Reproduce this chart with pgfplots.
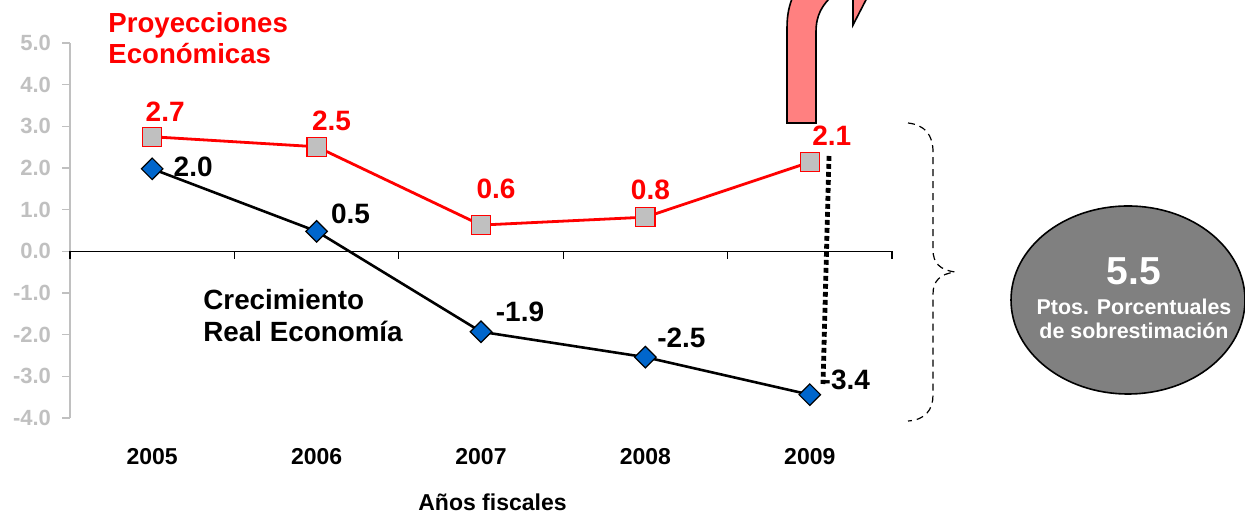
\documentclass[border=0pt]{standalone}
\usepackage{fontspec}
\setmainfont{Liberation Sans}
\usepackage{pgfplots}
\pgfplotsset{compat=1.18}
\usepackage{pgfplotstable}

\definecolor{axgray}{RGB}{192,192,192}
\definecolor{mkgray}{RGB}{192,192,192}
\definecolor{dblue}{RGB}{0,102,204}
\definecolor{pinkarr}{RGB}{255,128,128}
\definecolor{elgray}{RGB}{128,128,128}

% x = year index (2005 = 1), dx/dy = label offset in pt
\pgfplotstableread{
x y lab dx dy
1 2.75 2.7 6.5 12.5
2 2.51 2.5 7.5 13
3 0.63 0.6 7.5 18
4 0.82 0.8 2.5 13.5
5 2.14 2.1 11 13.25
}\proyecciones

\pgfplotstableread{
x y lab dx dy
1 1.98 2.0 20.5 1
2 0.48 0.5 17 8.5
3 -1.93 -1.9 19.5 9.75
4 -2.54 -2.5 18 9.5
5 -3.44 -3.4 18 7.25
}\crecimiento

\begin{document}
\begin{tikzpicture}
\useasboundingbox (0,0) rectangle (622.5pt,258.5pt);

\begin{axis}[
    at={(35pt,49.5pt)}, anchor=south west,
    scale only axis,
    width=411pt, height=187.5pt,
    xmin=0.5, xmax=5.5,
    ymin=-4, ymax=5,
    clip=false,
    axis lines*=left,
    x axis line style={draw=none},
    y axis line style={axgray, line width=0.75pt},
    tick align=outside,
    major tick length=4pt,
    xtick={1,2,3,4,5},
    xticklabels={2005,2006,2007,2008,2009},
    x tick style={draw=none},
    xticklabel style={font=\fontsize{11.5}{13}\selectfont\bfseries, anchor=base, yshift=-19.5pt},
    ytick={-4,-3,-2,-1,0,1,2,3,4,5},
    yticklabels={-4.0,-3.0,-2.0,-1.0,0.0,1.0,2.0,3.0,4.0,5.0},
    y tick style={axgray, line width=0.75pt},
    yticklabel style={font=\fontsize{11}{13}\selectfont\bfseries, text=axgray, xshift=-2pt},
    xlabel={Años fiscales},
    xlabel style={font=\fontsize{11.5}{13}\selectfont\bfseries, at={(axis description cs:0.514,0)}, anchor=base, yshift=-46.5pt},
]
% zero line with category separators
\draw[black, line width=0.6pt] (axis cs:0.5,0) -- (axis cs:5.5,0);
\pgfplotsinvokeforeach{0.5,1.5,2.5,3.5,4.5,5.5}{
  \draw[black, line width=0.6pt] (axis cs:#1,0) -- ([yshift=-3.75pt]axis cs:#1,0);
}

\addplot[red, line width=1.4pt, mark=square*, mark size=4.8pt,
    mark options={fill=mkgray, draw=red, line width=0.6pt},
    nodes near coords, point meta=explicit symbolic,
    visualization depends on={\thisrow{dx} \as \lblx},
    visualization depends on={\thisrow{dy} \as \lbly},
    every node near coord/.append style={anchor=center, text=red,
        font=\fontsize{14}{16}\selectfont\bfseries, xshift=\lblx, yshift=\lbly}]
    table[x=x, y=y, meta=lab] {\proyecciones};

\addplot[black, line width=1.3pt, mark=square*, mark size=3.8pt,
    mark options={rotate=45, fill=dblue, draw=black, line width=0.6pt},
    nodes near coords, point meta=explicit symbolic,
    visualization depends on={\thisrow{dx} \as \lblx},
    visualization depends on={\thisrow{dy} \as \lbly},
    every node near coord/.append style={anchor=center, text=black,
        font=\fontsize{14}{16}\selectfont\bfseries, xshift=\lblx, yshift=\lbly}]
    table[x=x, y=y, meta=lab] {\crecimiento};
\end{axis}

% annotations, in pixel units of the reference (y downwards)
\begin{scope}[x=0.5pt, y=-0.5pt, shift={(0pt,258.5pt)}]
  \begin{scope}
    \clip (0,0) rectangle (1245,517);
    \draw[fill=pinkarr, line width=0.8pt]
      (787,123) -- (787,28) .. controls (787,15) and (789,5) .. (794,-6)
      -- (834,-6) .. controls (822,5) and (816,15) .. (816,32) -- (816,123) -- cycle;
    \draw[fill=pinkarr, line width=0.8pt] (853,25) -- (853,-6) -- (869,-6) -- cycle;
  \end{scope}

  \draw[line width=2.4pt, dash pattern=on 2.4pt off 1.6pt] (829,156) -- (823,384);

  \draw[line width=0.6pt, dash pattern=on 3.5pt off 2.5pt]
    (908,123) .. controls (925,125) and (933,135) .. (933,152) -- (933,250)
    .. controls (933,263) and (940,270) .. (955,272)
    .. controls (940,274) and (933,281) .. (933,294) -- (933,395)
    .. controls (933,410) and (925,420) .. (908,421);

  \draw[fill=elgray, line width=0.8pt] (1128,300) ellipse [x radius=117, y radius=94];
  \node[anchor=base, text=white, font=\fontsize{19.5}{22}\selectfont\bfseries, inner sep=0pt] at (1134,285) {5.5};
  \node[anchor=base, text=white, font=\fontsize{10.7}{12}\selectfont\bfseries, inner sep=0pt] at (1134,315) {Ptos. Porcentuales};
  \node[anchor=base, text=white, font=\fontsize{10.7}{12}\selectfont\bfseries, inner sep=0pt] at (1134,339) {de sobrestimación};

  \node[anchor=base west, text=red, font=\fontsize{13.8}{16}\selectfont\bfseries, inner sep=0pt] at (108,33) {Proyecciones};
  \node[anchor=base west, text=red, font=\fontsize{13.8}{16}\selectfont\bfseries, inner sep=0pt] at (108,64) {Económicas};

  \node[anchor=base west, text=black, font=\fontsize{13.9}{16}\selectfont\bfseries, inner sep=0pt] at (203,310) {Crecimiento};
  \node[anchor=base west, text=black, font=\fontsize{13.9}{16}\selectfont\bfseries, inner sep=0pt] at (203,342) {Real Economía};
\end{scope}
\end{tikzpicture}
\end{document}
